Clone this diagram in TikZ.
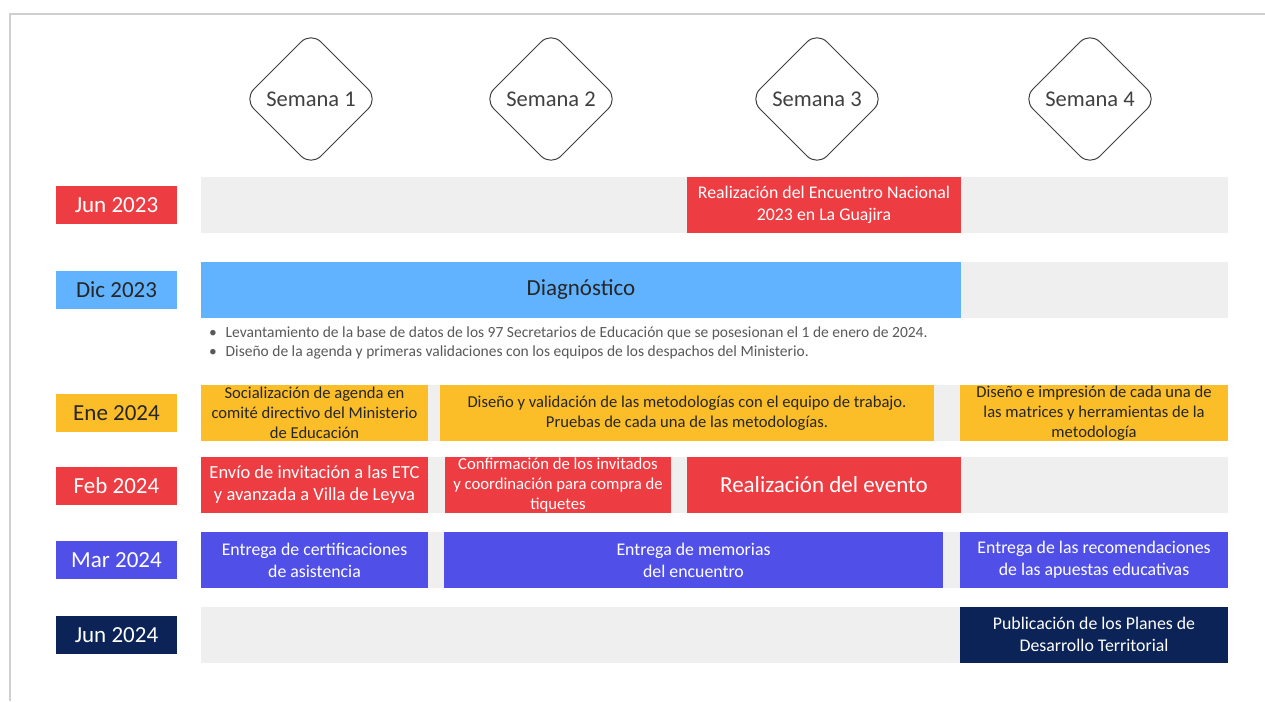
\documentclass[tikz,border=0pt]{standalone}
\usepackage{fontspec}
\setmainfont{Carlito}
\usetikzlibrary{shapes.geometric}
\definecolor{cred}{HTML}{EE3D42}
\definecolor{cblue}{HTML}{62B3FF}
\definecolor{camber}{HTML}{FCBE28}
\definecolor{cpurple}{HTML}{5050E8}
\definecolor{cnavy}{HTML}{0B2357}
\definecolor{cband}{HTML}{EFEFEF}
\definecolor{cline}{HTML}{404040}
\definecolor{ctext}{HTML}{595959}
\definecolor{cdark}{HTML}{262626}
\definecolor{cframe}{HTML}{D0D0D0}
\begin{document}
\begin{tikzpicture}[x=1pt,y=-1pt,
  every node/.style={inner sep=0pt, outer sep=0pt},
  band/.style={fill=cband, minimum width=1027pt, minimum height=56pt},
  lab/.style={minimum width=121pt, minimum height=38pt, text=white, font=\fontsize{23}{26}\selectfont},
  act/.style={align=center, text=white, minimum height=56pt, font=\fontsize{17.8}{22}\selectfont},
  week/.style={diamond, draw=cline, line width=1pt, rounded corners=14pt, aspect=1,
    minimum width=134pt, minimum height=134pt, text=cline, font=\fontsize{22.5}{26}\selectfont},
  bul/.style={anchor=west, text=ctext, font=\fontsize{15.5}{18}\selectfont},
]
\useasboundingbox (0,0) rectangle (1265,701);
\fill[white] (0,0) rectangle (1265,701);
% frame
\draw[cframe, line width=1.5pt] (10,701) -- (10,14) -- (1265,14);

% week diamonds
\node[week] (w1) at (311,99) {Semana 1};
\node[week] (w2) at (551,99) {Semana 2};
\node[week] (w3) at (817,99) {Semana 3};
\node[week] (w4) at (1090,99) {Semana 4};

% gray bands
\node[band] (b1) at (714.5,205) {};
\node[band] (b2) at (714.5,290) {};
\node[band] (b3) at (714.5,413) {};
\node[band] (b4) at (714.5,485) {};
\node[band] (b5) at (714.5,560) {};
\node[band] (b6) at (714.5,634.5) {};

% month labels
\node[lab, fill=cred] (l1) at (116.5,205) {Jun 2023};
\node[lab, fill=cblue, text=cdark] (l2) at (116.5,290) {Dic 2023};
\node[lab, fill=camber, text=cdark] (l3) at (116.5,413) {Ene 2024};
\node[lab, fill=cred] (l4) at (116.5,486) {Feb 2024};
\node[lab, fill=cpurple] (l5) at (116.5,560) {Mar 2024};
\node[lab, fill=cnavy] (l6) at (116.5,635) {Jun 2024};

% Jun 2023
\node[act, fill=cred, minimum width=274pt] (a11) at (824,205) {Realización del Encuentro Nacional\\2023 en La Guajira};

% Dic 2023
\node[act, fill=cblue, minimum width=760pt, text=cdark, font=\fontsize{23}{26}\selectfont] (a21) at (581,290) {Diagnóstico};
\node[bul] (t1) at (209,333) {•\hspace{9pt}Levantamiento de la base de datos de los 97 Secretarios de Educación que se posesionan el 1 de enero de 2024.};
\node[bul] (t2) at (209,352) {•\hspace{9pt}Diseño de la agenda y primeras validaciones con los equipos de los despachos del Ministerio.};

% Ene 2024
\node[act, fill=camber, text=cdark, minimum width=227pt, font=\fontsize{16.6}{20}\selectfont] (a31) at (314.5,413) {Socialización de agenda en\\comité directivo del Ministerio\\de Educación};
\node[act, fill=camber, text=cdark, minimum width=494pt, font=\fontsize{16.6}{20}\selectfont] (a32) at (687,413) {Diseño y validación de las metodologías con el equipo de trabajo.\\Pruebas de cada una de las metodologías.};
\node[act, fill=camber, text=cdark, minimum width=268pt, font=\fontsize{16.6}{20}\selectfont] (a33) at (1094,413) {Diseño e impresión de cada una de\\las matrices y herramientas de la\\metodología};

% Feb 2024
\node[act, fill=cred, minimum width=227pt, font=\fontsize{18.5}{22}\selectfont] (a41) at (314.5,485) {Envío de invitación a las ETC\\y avanzada a Villa de Leyva};
\node[act, fill=cred, minimum width=226pt, font=\fontsize{16.7}{20}\selectfont] (a42) at (558,485) {Confirmación de los invitados\\y coordinación para compra de\\tiquetes};
\node[act, fill=cred, minimum width=274pt, font=\fontsize{23}{26}\selectfont] (a43) at (824,485) {Realización del evento};

% Mar 2024
\node[act, fill=cpurple, minimum width=227pt] (a51) at (314.5,560) {Entrega de certificaciones\\de asistencia};
\node[act, fill=cpurple, minimum width=499pt] (a52) at (693.5,560) {Entrega de memorias\\del encuentro};
\node[act, fill=cpurple, minimum width=268pt] (a53) at (1094,560) {Entrega de las recomendaciones\\de las apuestas educativas};

% Jun 2024
\node[act, fill=cnavy, minimum width=268pt] (a61) at (1094,634.5) {Publicación de los Planes de\\Desarrollo Territorial};
\end{tikzpicture}
\end{document}
